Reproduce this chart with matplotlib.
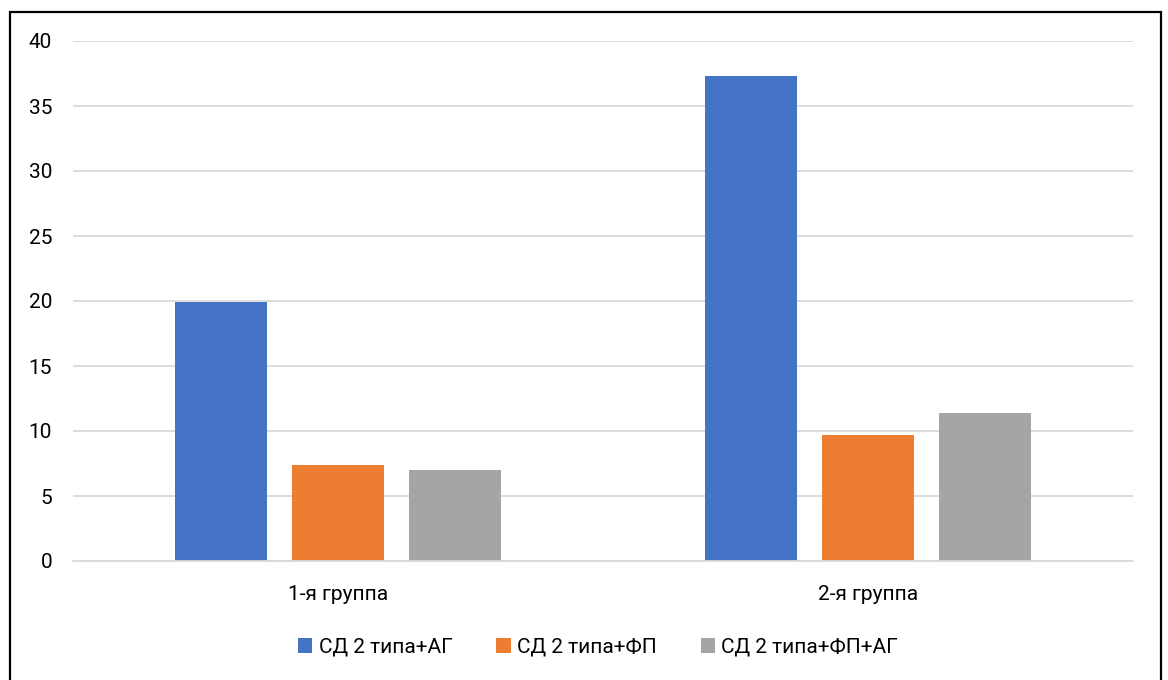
import numpy as np
import matplotlib.pyplot as plt
from matplotlib.patches import Rectangle

plt.rcParams['font.family'] = ['Roboto', 'DejaVu Sans']

groups = ['1-я группа', '2-я группа']
series_names = ['СД 2 типа+АГ', 'СД 2 типа+ФП', 'СД 2 типа+ФП+АГ']
values_ag = [19.9, 37.3]
values_fp = [7.4, 9.7]
values_fp_ag = [7.0, 11.4]
colors = ['#4472C4', '#ED7D31', '#A5A5A5']

fig = plt.figure(figsize=(11.68, 6.8), dpi=100)
ax = fig.add_axes([73 / 1168, 1 - 561 / 680, 1060 / 1168, 520 / 680])

x = np.arange(len(groups))
width = 0.1736
step = 0.2208
for i, (vals, name, col) in enumerate(zip([values_ag, values_fp, values_fp_ag], series_names, colors)):
    ax.bar(x + (i - 1) * step, vals, width, color=col, label=name, zorder=2)

ax.set_xlim(-0.5, 1.5)
ax.set_ylim(0, 40)
ax.set_yticks(np.arange(0, 41, 5))
ax.set_xticks(x)
ax.set_xticklabels(groups)
ax.yaxis.grid(True, color='#D9D9D9', linewidth=1.3, zorder=0)
for side in ['top', 'right', 'left']:
    ax.spines[side].set_visible(False)
ax.spines['bottom'].set_color('#D9D9D9')
ax.spines['bottom'].set_linewidth(1.3)
ax.tick_params(axis='both', length=0, labelsize=15, colors='black')
ax.tick_params(axis='y', pad=15)
ax.tick_params(axis='x', pad=17)

fig.legend(loc='center', bbox_to_anchor=(598 / 1168, 1 - 647 / 680), ncol=3,
           frameon=False, fontsize=15, handlelength=0.7, handleheight=0.7,
           handletextpad=0.3, columnspacing=2.1)

# outer frame around the chart
fig.patches.append(Rectangle((10 / 1168, -0.01), 1151 / 1168, 1 - 12 / 680 + 0.01,
                             transform=fig.transFigure, fill=False,
                             edgecolor='black', linewidth=1.6))

fig.savefig('out.png', dpi=100)
